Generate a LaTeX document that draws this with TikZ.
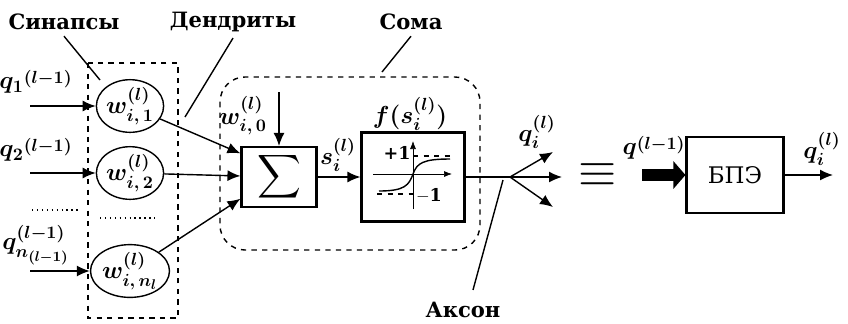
\RequirePackage{fix-cm}
\documentclass[tikz,border=0pt]{standalone}
\usepackage{fontspec}
\setmainfont{DejaVu Serif}
\usepackage{amsmath}
\usetikzlibrary{arrows.meta,positioning,shapes.geometric,calc}
\DeclareMathSizes{14}{14}{10}{8}
% superscript set a little lower / higher than TeX would put it
\newcommand\lsup[1]{\raisebox{-2pt}[\dimexpr\height-2pt\relax][0pt]{$\scriptstyle#1$}}
\newcommand\hsup[2][1.5pt]{\raisebox{#1}{$\scriptstyle#2$}}
\tikzset{
  syn/.style={draw, ellipse, thick, minimum width=12.6mm, minimum height=10.2mm, inner sep=0pt,
              font=\fontsize{14}{16}\selectfont\boldmath},
  blk/.style={draw, very thick, rectangle, inner sep=0pt},
  frame/.style={draw, dashed, thick},
  flow/.style={-{Latex[length=2.6mm,width=2.2mm]}, thick},
  ptr/.style={thick},
  tag/.style={font=\bfseries\fontsize{12}{14}\selectfont},
  lbl/.style={font=\fontsize{14}{16}\selectfont\boldmath, inner sep=1pt},
}
\begin{document}
\begin{tikzpicture}[x=0.2mm, y=-0.2mm]
    \useasboundingbox (0,0) rectangle (848,323);
    % synapses
    \node[syn] (w1) at (130,106) {$w_{i,\,1}^{(l)}$};
    \node[syn] (w2) at (130,173) {$w_{i,\,2}^{(l)}$};
    \node[syn] (wn) at (130,271) {$w_{i,\,n_l}^{(l)}$};
    \draw[frame] (88,63) rectangle (178,318);
    \coordinate (x1) at (30,106);
    \coordinate (x2) at (30,173);
    \coordinate (xn) at (30,271);
    \draw[flow] (x1) -- (w1);
    \draw[flow] (x2) -- (w2);
    \draw[flow] (xn) -- (wn);
    \node[lbl] (q1) at (36,82) {${q_1}^{\lsup{(l-1)}}$};
    \node[lbl] (q2) at (36,150) {${q_2}^{\lsup{(l-1)}}$};
    \node[lbl] (qn) at (36,245) {$q_{n_{(l-1)}}^{\hsup{(l-1)}}$};
    \draw[thick, dotted] (32,210) -- (80,210);
    \draw[thick, dotted] (100,218) -- (155,218);
    % soma
    \node[blk, minimum width=15mm, minimum height=12mm] (sum) at (279,177)
      {\fontsize{18}{18}\selectfont$\displaystyle\sum$};
    \draw[flow] (w1) -- ($(sum.north west)!.12!(sum.south west)$);
    \draw[flow] (w2) -- (sum);
    \draw[flow] (wn) -- ($(sum.north west)!.85!(sum.south west)$);
    \coordinate (b0) at (279,92);
    \draw[flow] (b0) -- (sum);
    \node[lbl] (w0) at (243,116) {$w_{i,\,0}^{\hsup[3pt]{(l)}}$};
    \node[blk, minimum width=20.6mm, minimum height=17.8mm] (f) at (413,177) {};
    \draw[flow] (sum) -- (f);
    \node[lbl] (sl) at (338,155) {$s_i^{(l)}$};
    \node[lbl] (fl) at (410,114) {$f(s_i^{(l)})$};
    \begin{scope}[shift={(f.center)}]
      \draw[-{Latex[length=1.6mm,width=1.2mm]}] (-40,-3) -- (39,-3);
      \draw[-{Latex[length=1.6mm,width=1.2mm]}] (0,32) -- (0,-36);
      \draw[thick] (-34,14) .. controls (-8,14) and (-4,8) .. (0,-3)
        .. controls (4,-14) and (10,-18) .. (37,-18);
      \draw[thick, dashed] (0,-21) -- (39,-21);
      \draw[thick, dashed] (-36,17) -- (0,17);
      \node[font=\bfseries] at (-16,-24) {+1};
      \node[font=\bfseries] at (16,19) {$-$1};
    \end{scope}
    \draw[frame, rounded corners=5mm] (220,77) rectangle (480,250);
    % axon
    \coordinate (br) at (510,177);
    \coordinate (o1) at (553,152);
    \coordinate (o2) at (562,177);
    \coordinate (o3) at (553,207);
    \draw[thick] (f) -- (br);
    \draw[flow] (br) -- (o1);
    \draw[flow] (br) -- (o2);
    \draw[flow] (br) -- (o3);
    \node[lbl] (qo) at (537,132) {$q_i^{(l)}$};
    % captions
    \node[tag] (synl) at (64,22) {Синапсы};
    \node[tag] (dendl) at (233,22) {Дендриты};
    \node[tag] (somal) at (411,22) {Сома};
    \node[tag] (axl) at (463,310) {Аксон};
    \coordinate (sp) at (100,80);
    \coordinate (dp) at (185,117);
    \coordinate (mp) at (382,72);
    \coordinate (ap) at (503,180);
    \draw[ptr] (synl.south) -- (sp);
    \draw[ptr] (dendl.south) -- (dp);
    \draw[ptr] (somal.south) -- (mp);
    \draw[ptr] (axl.north) ++(10,-6) coordinate (at) -- (ap);
    % equivalent block
    \node (eq) at (598,175) {\fontsize{28}{28}\selectfont$\equiv$};
    \node[blk, minimum width=19.4mm, minimum height=15.2mm] (bpe) at (735,175)
      {\fontsize{13}{15}\selectfont БПЭ};
    \coordinate (tin) at (642,175);
    \coordinate (tout) at (833,175);
    \draw[line width=2.4mm, -{Triangle[length=2.4mm,width=5.4mm]}] (tin) -- (bpe);
    \draw[flow] (bpe) -- (tout);
    \node[lbl] (qp) at (654,148) {$q^{\lsup{(l-1)}}$};
    \node[lbl] (qi) at (822,149) {$q_i^{(l)}$};
\end{tikzpicture}
\end{document}
